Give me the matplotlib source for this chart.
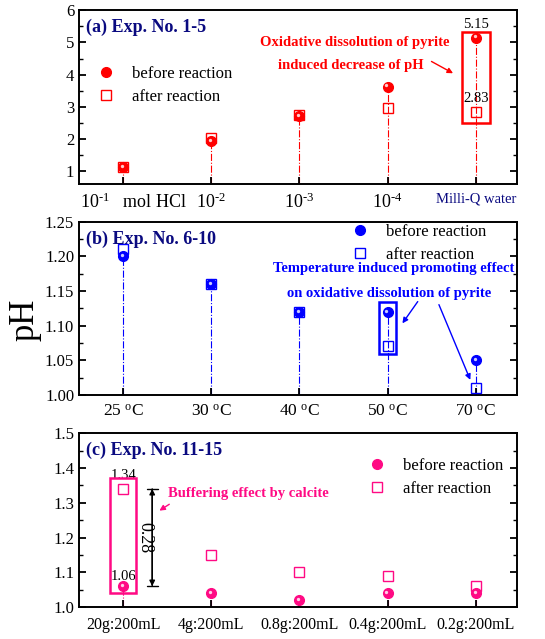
import matplotlib.pyplot as plt
import numpy as np
from matplotlib.lines import Line2D
from matplotlib.patches import Rectangle
from matplotlib.transforms import offset_copy

plt.rcParams['font.family'] = 'Liberation Serif'
plt.rcParams['mathtext.fontset'] = 'custom'
plt.rcParams['mathtext.rm'] = 'Liberation Serif'
plt.rcParams['mathtext.it'] = 'Liberation Serif:italic'
plt.rcParams['mathtext.bf'] = 'Liberation Serif:bold'
plt.rcParams['axes.linewidth'] = 1.4

# (a) HCl concentration series
hcl_labels = ['10$^{\u20101}$   mol HCl', '10$^{\u20102}$', '10$^{\u20103}$', '10$^{\u20104}$', 'Milli-Q water']
ph_before_a = [1.12, 1.93, 2.70, 3.63, 5.15]
ph_after_a = [1.13, 2.03, 2.75, 2.97, 2.83]

# (b) temperature series
temp_labels = ['25 $^{\\rm o}$C', '30 $^{\\rm o}$C', '40 $^{\\rm o}$C', '50 $^{\\rm o}$C', '70 $^{\\rm o}$C']
ph_before_b = [1.20, 1.16, 1.12, 1.12, 1.05]
ph_after_b = [1.21, 1.16, 1.12, 1.07, 1.01]

# (c) calcite dosage series
calcite_labels = ['20g:200mL', '4g:200mL', '0.8g:200mL', '0.4g:200mL', '0.2g:200mL']
ph_before_c = [1.06, 1.04, 1.02, 1.04, 1.04]
ph_after_c = [1.34, 1.15, 1.10, 1.09, 1.06]

red = '#ff0000'
blue = '#0000ff'
pink = '#ff0a84'
navy = '#0a0a80'

fig = plt.figure(figsize=(5.45, 6.39), dpi=100)
ax_a = fig.add_axes([0.145, 0.712, 0.804, 0.272])
ax_b = fig.add_axes([0.145, 0.382, 0.804, 0.271])
ax_c = fig.add_axes([0.145, 0.050, 0.804, 0.272])

x = np.arange(1, 6)


def panel(ax, before, after, color, ylim):
    ax.set_xlim(0.5, 5.47)
    ax.set_ylim(*ylim)
    ax.vlines(x, ylim[0], before, colors=color, linestyles='-.', linewidth=0.8, zorder=1)
    ax.plot(x, after, 's', ms=7, mfc='none', mec=color, mew=1.0, zorder=3)
    ax.plot(x, before, 'o', ms=7, color=color, zorder=4)
    # small highlight on the balls
    hl = offset_copy(ax.transData, fig=fig, x=-0.8, y=0.8, units='points')
    ax.plot(x, before, 'o', ms=2.4, color='white', alpha=0.8, mew=0, transform=hl, zorder=5)
    ax.set_xticks(x)
    ax.tick_params(axis='both', which='both', direction='in', right=True, labelsize=12)
    ax.tick_params(axis='both', which='major', length=5, width=1.3)
    ax.tick_params(axis='y', which='minor', length=3, width=1)
    ax.tick_params(axis='x', which='major', pad=6)
    h1 = Line2D([], [], marker='o', ls='none', ms=7, color=color)
    h2 = Line2D([], [], marker='s', ls='none', ms=7, mfc='none', mec=color)
    return h1, h2


def add_legend(ax, h1, h2, anchor):
    ax.legend([h1, h2], ['before reaction', 'after reaction'], loc='upper left',
              bbox_to_anchor=anchor, frameon=False, fontsize=12, handlelength=1.2,
              handletextpad=0.95, labelspacing=0.45)


# ---- (a)
h1, h2 = panel(ax_a, ph_before_a, ph_after_a, red, (0.6, 6))
ax_a.set_yticks([1, 2, 3, 4, 5, 6])
ax_a.set_yticks(np.arange(1.5, 6, 1), minor=True)
ax_a.set_xticklabels([''] + hcl_labels[1:])
ax_a.tick_params(axis='x', labelsize=13)
lbls = ax_a.get_xticklabels()
lbls[-1].set_color(navy)
lbls[-1].set_fontsize(10.5)
ax_a.text(1.12, -0.05, hcl_labels[0], transform=ax_a.get_xaxis_transform(),
          ha='center', va='top', fontsize=13)
ax_a.text(0.015, 0.95, '(a) Exp. No. 1-5', transform=ax_a.transAxes, ha='left', va='top',
          color=navy, fontsize=13, fontweight='bold')
add_legend(ax_a, h1, h2, (0.004, 0.767))
ax_a.add_patch(Rectangle((4.84, 2.49), 0.32, 2.83, fill=False, ec=red, lw=1.8, zorder=6))
ax_a.text(5, ph_before_a[4] + 0.22, '%.2f' % ph_before_a[4], ha='center', va='bottom', fontsize=10.5)
ax_a.text(5, ph_after_a[4] + 0.22, '%.2f' % ph_after_a[4], ha='center', va='bottom', fontsize=10.5)
ax_a.text(3.63, 5.0, 'Oxidative dissolution of pyrite', ha='center', va='center',
          color=red, fontsize=10.5, fontweight='bold')
ax_a.text(3.58, 4.29, 'induced decrease of pH', ha='center', va='center',
          color=red, fontsize=10.5, fontweight='bold')
ax_a.annotate('', xy=(4.77, 4.0), xytext=(4.47, 4.45),
              arrowprops=dict(arrowstyle='-|>', color=red, lw=1, mutation_scale=8))

# ---- (b)
h1, h2 = panel(ax_b, ph_before_b, ph_after_b, blue, (1.0, 1.25))
ax_b.set_yticks(np.arange(1.0, 1.26, 0.05))
ax_b.set_yticks(np.arange(1.025, 1.25, 0.05), minor=True)
ax_b.yaxis.set_major_formatter(plt.FormatStrFormatter('%.2f'))
ax_b.set_xticklabels(temp_labels)
ax_b.tick_params(axis='x', labelsize=12.5)
ax_b.text(0.015, 0.95, '(b) Exp. No. 6-10', transform=ax_b.transAxes, ha='left', va='top',
          color=navy, fontsize=13, fontweight='bold')
add_legend(ax_b, h1, h2, (0.584, 1.076))
ax_b.add_patch(Rectangle((3.9, 1.059), 0.2, 0.075, fill=False, ec=blue, lw=1.8, zorder=6))
ax_b.text(4.07, 1.182, 'Temperature induced promoting effect', ha='center', va='center',
          color=blue, fontsize=10.5, fontweight='bold')
ax_b.text(4.02, 1.147, 'on oxidative dissolution of pyrite', ha='center', va='center',
          color=blue, fontsize=10.5, fontweight='bold')
ax_b.annotate('', xy=(4.15, 1.1), xytext=(4.36, 1.138),
              arrowprops=dict(arrowstyle='-|>', color=blue, lw=1, mutation_scale=8))
ax_b.annotate('', xy=(4.95, 1.018), xytext=(4.57, 1.134),
              arrowprops=dict(arrowstyle='-|>', color=blue, lw=1, mutation_scale=8))

# ---- (c)
h1, h2 = panel(ax_c, ph_before_c, ph_after_c, pink, (1.0, 1.5))
ax_c.set_yticks(np.arange(1.0, 1.51, 0.1))
ax_c.set_yticks(np.arange(1.05, 1.5, 0.1), minor=True)
ax_c.yaxis.set_major_formatter(plt.FormatStrFormatter('%.1f'))
ax_c.set_xticklabels(calcite_labels)
ax_c.tick_params(axis='x', labelsize=11.5, pad=7)
ax_c.text(0.015, 0.95, '(c) Exp. No. 11-15', transform=ax_c.transAxes, ha='left', va='top',
          color=navy, fontsize=13, fontweight='bold')
add_legend(ax_c, h1, h2, (0.623, 0.946))
ax_c.add_patch(Rectangle((0.85, 1.04), 0.3, 0.331, fill=False, ec=pink, lw=1.8, zorder=6))
ax_c.text(1, ph_after_c[0] + 0.02, '%.2f' % ph_after_c[0], ha='center', va='bottom', fontsize=10.5)
ax_c.text(1, ph_before_c[0] + 0.01, '%.2f' % ph_before_c[0], ha='center', va='bottom', fontsize=10.5)
# difference marker between the two pH values
ax_c.annotate('', xy=(1.33, ph_before_c[0]), xytext=(1.33, ph_after_c[0]),
              arrowprops=dict(arrowstyle='|-|', color='k', lw=1, mutation_scale=4, shrinkA=0, shrinkB=0))
ax_c.annotate('', xy=(1.33, ph_before_c[0]), xytext=(1.33, ph_after_c[0]),
              arrowprops=dict(arrowstyle='<|-|>', color='k', lw=1, mutation_scale=8, shrinkA=0, shrinkB=0))
ax_c.text(1.25, (ph_before_c[0] + ph_after_c[0]) / 2, '%.2f' % (ph_after_c[0] - ph_before_c[0]),
          ha='center', va='center', rotation=270, fontsize=13)
ax_c.text(2.42, 1.328, 'Buffering effect by calcite', ha='center', va='center',
          color=pink, fontsize=10.5, fontweight='bold')
ax_c.annotate('', xy=(1.385, 1.273), xytext=(1.55, 1.30),
              arrowprops=dict(arrowstyle='-|>', color=pink, lw=1, mutation_scale=8))

fig.text(0.045, 0.50, 'pH', rotation=90, ha='center', va='center', fontsize=25)

fig.savefig('out.png', dpi=100)
